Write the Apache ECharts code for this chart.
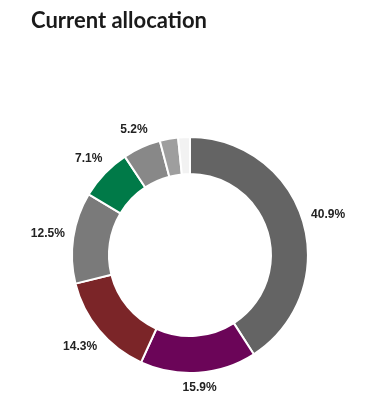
<!DOCTYPE html>
<html>
<head>
<meta charset="utf-8">
<script src="https://cdn.jsdelivr.net/npm/echarts@6/dist/echarts.min.js"></script>
<style>
html,body{margin:0;padding:0;background:#fff;}
#chart{width:371px;height:416px;}
</style>
</head>
<body>
<div id="chart"></div>
<script>
const categories = ['A', 'B', 'C', 'D', 'E', 'F', 'G', 'H'];
const values = [40.9, 15.9, 14.3, 12.5, 7.1, 5.2, 2.5, 1.6];
const colors = ['#646464', '#6b0558', '#7b2528', '#7a7a7a', '#007a48', '#888888', '#9e9e9e', '#f2f2f2'];
const showLabel = [true, true, true, true, true, true, false, false];

const chart = echarts.init(document.getElementById('chart'), null, {renderer: 'canvas'});
const CX = 0.512, CY = 0.613;
const R0 = 126;

const data = categories.map((c, i) => ({
  name: c,
  value: values[i],
  itemStyle: {color: colors[i]},
  label: {show: showLabel[i]}
}));

chart.setOption({
  animation: false,
  title: {
    text: 'Current allocation',
    left: 26,
    top: 5,
    textStyle: {fontFamily: 'Lato', fontWeight: 700, fontSize: 22, color: '#1a1a1a'}
  },
  series: [{
    type: 'pie',
    center: [(CX * 100) + '%', (CY * 100) + '%'],
    radius: [81, 118],
    startAngle: 90,
    clockwise: true,
    avoidLabelOverlap: false,
    itemStyle: {borderColor: '#ffffff', borderWidth: 2},
    label: {
      show: true,
      position: 'inside',
      formatter: p => p.value.toFixed(1) + '%',
      fontFamily: 'Liberation Sans, Arial, sans-serif',
      fontWeight: 'bold',
      fontSize: 12,
      color: '#222222'
    },
    labelLine: {show: false},
    labelLayout: function (params) {
      const r = params.labelRect;
      const cx = chart.getWidth() * CX, cy = chart.getHeight() * CY;
      const lx = r.x + r.width / 2, ly = r.y + r.height / 2;
      let dx = lx - cx, dy = ly - cy;
      const d = Math.sqrt(dx * dx + dy * dy) || 1;
      dx /= d; dy /= d;
      const ext = Math.abs(dx) * r.width / 2 + Math.abs(dy) * r.height / 2;
      const nr = R0 + ext;
      return {x: cx + dx * nr, y: cy + dy * nr, align: 'center', verticalAlign: 'middle'};
    },
    emphasis: {disabled: true},
    data: data
  }]
});
</script>
</body>
</html>
